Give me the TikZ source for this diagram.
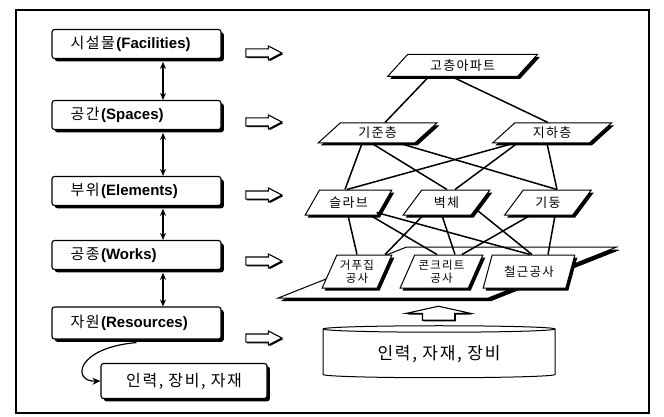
\documentclass[tikz,border=0pt]{standalone}
\usepackage{fontspec}
\setmainfont{Liberation Sans}
\newfontfamily\kr[LetterSpace=10]{Noto Sans CJK KR}
\usetikzlibrary{shapes.geometric,shapes.arrows,shadows,arrows.meta}
\newcommand\lvl[2]{\makebox[132pt][l]{{\kr\fontsize{15}{18}\selectfont #1}\textbf{(#2)}}}
\tikzset{
  blackshadow/.style={drop shadow={shadow xshift=#1, shadow yshift=-#1, fill=black, opacity=1}},
  levelbox/.style={draw, line width=1.1pt, fill=white, rounded corners=2.5pt, minimum width=169pt, minimum height=29pt,
    inner xsep=0pt, font=\fontsize{15}{18}\selectfont, blackshadow=2.8pt},
  hollow/.style={single arrow, draw, line width=1.1pt, fill=white, minimum height=36pt, inner xsep=0pt, inner ysep=3.5pt,
    single arrow head extend=3pt, single arrow tip angle=55, blackshadow=1.2pt},
  plane/.style={trapezium, draw, line width=1pt, fill=white, trapezium stretches=true, inner sep=0pt, align=center,
    font=\kr\fontsize{13}{14}\selectfont, blackshadow=2.5pt},
  tier1/.style={plane, trapezium left angle=45, trapezium right angle=135, minimum width=151pt, minimum height=22pt},
  tier2/.style={plane, trapezium left angle=46, trapezium right angle=134, minimum width=119pt, minimum height=20pt},
  tier3/.style={plane, trapezium left angle=51, trapezium right angle=129, minimum width=87pt, minimum height=25pt},
  tier4/.style={plane, trapezium left angle=62, trapezium right angle=118, minimum height=33pt,
    font=\kr\fontsize{11.5}{13}\selectfont},
  link/.style={line width=1.5pt},
  dbl/.style={line width=1.4pt, {Stealth[length=7pt,width=6pt]}-{Stealth[length=7pt,width=6pt]}}
}
\begin{document}
\begin{tikzpicture}[x=1pt,y=-1pt]
  \useasboundingbox (0,0) rectangle (664,417);
  \draw[line width=1.6pt] (16,10) rectangle (649,413);
  % left column
  \node[levelbox] (fac) at (136.5,44) {\lvl{시설물}{Facilities}};
  \node[levelbox] (spc) at (136.5,115) {\lvl{공간}{Spaces}};
  \node[levelbox] (elm) at (136.5,191) {\lvl{부위}{Elements}};
  \node[levelbox] (wrk) at (136.5,255) {\lvl{공종}{Works}};
  \node[levelbox, minimum height=32pt] (res) at (136.5,323) {\lvl{자원}{Resources}};
  \node[levelbox, minimum width=166pt, minimum height=35pt, font=\kr\fontsize{16}{19}\selectfont] (mat)
    at (184,381) {인력, 장비, 자재};
  \draw[dbl] ([xshift=26.5pt,yshift=-2.8pt]fac.south) -- ([xshift=26.5pt]spc.north);
  \draw[dbl] ([xshift=26.5pt,yshift=-2.8pt]spc.south) -- ([xshift=26.5pt]elm.north);
  \draw[dbl] ([xshift=26.5pt,yshift=-2.8pt]elm.south) -- ([xshift=26.5pt]wrk.north);
  \draw[dbl] ([xshift=26.5pt,yshift=-2.8pt]wrk.south) -- ([xshift=26.5pt]res.north);
  \draw[line width=1.2pt, -{Stealth[length=8pt,width=7pt]}] ([yshift=-3pt]res.south)
    .. controls (75,348) and (72,382) .. (mat.west);
  \node[hollow] (a1) at (260,53) {};
  \node[hollow] (a2) at (260,122) {};
  \node[hollow] (a3) at (260,195) {};
  \node[hollow] (a4) at (260,261) {};
  \node[hollow] (a5) at (260,338) {};
  % building breakdown
  \node[plane, trapezium left angle=32.5, trapezium right angle=147.5, minimum width=339pt,
    minimum height=51pt, inner sep=2pt, blackshadow=3pt] (deck) at (447.5,272.5) {};
  \node[tier1] (apt) at (462.5,65.5) {고층아파트};
  \node[tier2] (kijun) at (377.5,133) {기준층};
  \node[tier2] (jiha) at (552,133) {지하층};
  \node[tier3] (slab) at (348.5,202.5) {슬라브};
  \node[tier3] (wall) at (446.5,202.5) {벽체};
  \node[tier3] (col) at (548,202.5) {기둥};
  \node[tier4, minimum width=70pt] (form) at (357,271.5) {거푸집\\공사};
  \node[tier4, minimum width=83pt] (conc) at (441.5,271.5) {콘크리트\\공사};
  \node[tier4, minimum width=92pt, font=\kr\fontsize{12.5}{14}\selectfont] (rebar) at (529,271.5) {철근공사};
  \draw[link] ([xshift=-34pt]apt.south) -- ([xshift=7.5pt]kijun.north);
  \draw[link] ([xshift=-10pt]apt.south) -- ([xshift=-4pt]jiha.north);
  \draw[link] ([xshift=-15.5pt]kijun.south) -- ([xshift=-3.5pt]slab.north);
  \draw[link] ([xshift=-5.5pt]kijun.south) -- ([xshift=0.5pt]wall.north);
  \draw[link] ([xshift=22.5pt]kijun.south) -- ([xshift=9pt]col.north);
  \draw[link] ([xshift=-39pt]jiha.south) -- ([xshift=-1.5pt]slab.north);
  \draw[link] ([xshift=-35pt]jiha.south) -- ([xshift=8.5pt]wall.north);
  \draw[link] ([xshift=-5pt]jiha.south) -- ([xshift=9pt]col.north);
  \draw[link] ([xshift=-0.5pt]slab.south) -- ([xshift=0pt]form.north);
  \draw[link] ([xshift=22pt]slab.south) -- ([xshift=-4.5pt]conc.north);
  \draw[link] ([xshift=28pt,yshift=3pt]slab.south) -- ([xshift=1pt]rebar.north);
  \draw[link] ([xshift=-23.5pt]wall.south) -- ([xshift=28pt]form.north);
  \draw[link] ([xshift=-4.5pt]wall.south) -- ([xshift=13.5pt]conc.north);
  \draw[link] ([xshift=31pt,yshift=5pt]wall.south) -- ([xshift=3pt]rebar.north);
  \draw[link] ([xshift=-18pt]col.south) -- ([xshift=20.5pt]conc.north);
  \draw[link] ([xshift=7pt]col.south) -- ([xshift=19pt]rebar.north);
  % resources
  \node[hollow, rotate=90, minimum height=14pt, inner ysep=15.5pt, single arrow head extend=16pt,
    single arrow tip angle=155] (up) at (438.5,315) {};
  \node[cylinder, draw, line width=1pt, shape border rotate=90, aspect=0.05, minimum width=232pt, minimum height=52pt,
    font=\kr\fontsize{17}{21}\selectfont] (pool) at (439,354) {인력, 자재, 장비};
\end{tikzpicture}
\end{document}
